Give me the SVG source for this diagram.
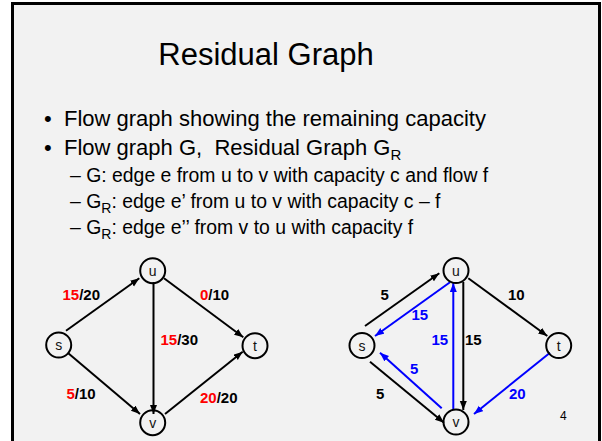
<svg xmlns="http://www.w3.org/2000/svg" width="602" height="441" viewBox="0 0 602 441">
<style>
.t{font-family:"Liberation Sans",Arial,sans-serif;fill:#000}
.lbl{font-family:"Liberation Sans",Arial,sans-serif;font-size:15px;font-weight:bold;fill:#000}
.red{fill:#ff0000}
.blue{fill:#0000ff}
.node circle{fill:none;stroke:#000;stroke-width:2}
.node text{font-family:"Liberation Sans",Arial,sans-serif;font-size:14px;fill:#111;text-anchor:middle}
.e{stroke:#000;stroke-width:2;fill:none;marker-end:url(#ab)}
.eb{stroke:#0000ff;stroke-width:2;fill:none;marker-end:url(#au)}
</style>
<defs>
<marker id="ab" markerUnits="userSpaceOnUse" markerWidth="10" markerHeight="8" refX="9" refY="3.5" orient="auto"><path d="M0,0 L9,3.5 L0,7 z" fill="#000"/></marker>
<marker id="au" markerUnits="userSpaceOnUse" markerWidth="10" markerHeight="8" refX="9" refY="3.5" orient="auto"><path d="M0,0 L9,3.5 L0,7 z" fill="#0000ff"/></marker>
</defs>
<rect x="12.5" y="3.5" width="587" height="445" fill="#f2f2f2" stroke="#000" stroke-width="3"/>
<text class="t" x="266" y="65" font-size="31" text-anchor="middle">Residual Graph</text>
<g class="t" font-size="22">
<text x="44" y="126">•</text>
<text x="64" y="126">Flow graph showing the remaining capacity</text>
<text x="44" y="155">•</text>
<text x="64" y="155" xml:space="preserve">Flow graph G,  Residual Graph G<tspan font-size="15" dy="5">R</tspan></text>
</g>
<g class="t" font-size="19.4">
<text x="70" y="182">– G: edge e from u to v with capacity c and flow f</text>
<text x="70" y="208">– G<tspan font-size="14" dy="5">R</tspan><tspan dy="-5">: edge e’ from u to v with capacity c – f</tspan></text>
<text x="70" y="233.5">– G<tspan font-size="14" dy="5">R</tspan><tspan dy="-5">: edge e’’ from v to u with capacity f</tspan></text>
</g>
<g id="connectors">
<line class="e" x1="66" y1="330.7" x2="139.3" y2="278.3"/>
<line class="e" x1="164" y1="278.3" x2="243.3" y2="337.3"/>
<line class="e" x1="153.5" y1="282" x2="153.5" y2="414"/>
<line class="e" x1="68.3" y1="353.3" x2="140" y2="414"/>
<line class="e" x1="165" y1="414" x2="242.7" y2="351.7"/>
<line class="e" x1="365" y1="326" x2="439.3" y2="273.3"/>
<line class="eb" x1="450" y1="282.3" x2="375" y2="336"/>
<line class="e" x1="468.3" y1="278.3" x2="547.3" y2="336"/>
<line class="e" x1="463.3" y1="282" x2="463.3" y2="410"/>
<line class="eb" x1="453.3" y1="410" x2="453.3" y2="283"/>
<line class="e" x1="370" y1="361.7" x2="444" y2="422.7"/>
<line class="eb" x1="441.7" y1="408.3" x2="380" y2="352.7"/>
<line class="eb" x1="550" y1="352.7" x2="474" y2="414"/>
<text class="lbl" x="62.5" y="300"><tspan class="red">15</tspan>/20</text>
<text class="lbl" x="200" y="300"><tspan class="red">0</tspan>/10</text>
<text class="lbl" x="160.5" y="345"><tspan class="red">15</tspan>/30</text>
<text class="lbl" x="66.5" y="398.5"><tspan class="red">5</tspan>/10</text>
<text class="lbl" x="200" y="403"><tspan class="red">20</tspan>/20</text>
<text class="lbl" x="380.5" y="300">5</text>
<text class="lbl blue" x="411.5" y="320">15</text>
<text class="lbl" x="508" y="300">10</text>
<text class="lbl blue" x="431.5" y="344.5">15</text>
<text class="lbl" x="465" y="344.5">15</text>
<text class="lbl blue" x="410" y="374">5</text>
<text class="lbl" x="376" y="398.5">5</text>
<text class="lbl blue" x="509" y="398.5">20</text>
</g>
<g id="L_s" class="node"><circle cx="58.7" cy="345" r="12.5"/><text x="58.7" y="350">s</text></g>
<g id="L_u" class="node"><circle cx="152.7" cy="270.7" r="12.5"/><text x="152.7" y="275.7">u</text></g>
<g id="L_t" class="node"><circle cx="255" cy="345.7" r="12.5"/><text x="255" y="350.7">t</text></g>
<g id="L_v" class="node"><circle cx="152.7" cy="422.7" r="12.5"/><text x="152.7" y="427.7">v</text></g>
<g id="R_s" class="node"><circle cx="362" cy="345.5" r="12.5"/><text x="362" y="350.5">s</text></g>
<g id="R_u" class="node"><circle cx="456" cy="270.5" r="12.5"/><text x="456" y="275.5">u</text></g>
<g id="R_t" class="node"><circle cx="558.7" cy="345.5" r="12.5"/><text x="558.7" y="350.5">t</text></g>
<g id="R_v" class="node"><circle cx="456" cy="422" r="12.5"/><text x="456" y="427">v</text></g>
<text class="t" x="560" y="420" font-size="12" fill="#333">4</text>
</svg>
